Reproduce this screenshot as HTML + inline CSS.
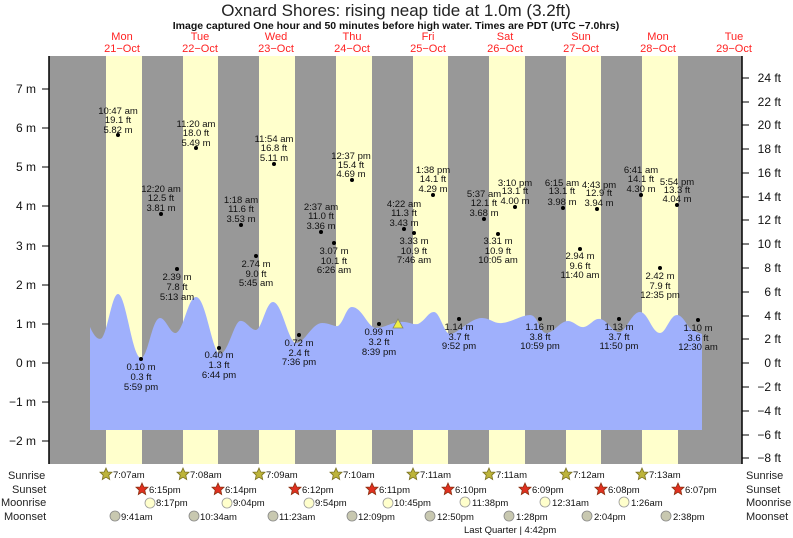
<!DOCTYPE html>
<html><head><meta charset="utf-8"><style>
body{margin:0;background:#fff}
svg{display:block;font-family:"Liberation Sans",sans-serif}
</style></head><body>
<svg width="793" height="538" viewBox="0 0 793 538">
<rect width="793" height="538" fill="#fff"/>
<text x="396" y="16" font-size="17" text-anchor="middle" fill="#222">Oxnard Shores: rising  neap tide at 1.0m (3.2ft)</text>
<text x="396" y="29" font-size="10.5" font-weight="bold" text-anchor="middle" fill="#111">Image captured One hour and 50 minutes before high water. Times are PDT (UTC −7.0hrs)</text>
<g font-size="11" fill="#f22" text-anchor="middle">
<text x="122" y="40">Mon</text><text x="122" y="52">21−Oct</text>
<text x="200" y="40">Tue</text><text x="200" y="52">22−Oct</text>
<text x="276" y="40">Wed</text><text x="276" y="52">23−Oct</text>
<text x="352" y="40">Thu</text><text x="352" y="52">24−Oct</text>
<text x="428" y="40">Fri</text><text x="428" y="52">25−Oct</text>
<text x="505" y="40">Sat</text><text x="505" y="52">26−Oct</text>
<text x="581" y="40">Sun</text><text x="581" y="52">27−Oct</text>
<text x="658" y="40">Mon</text><text x="658" y="52">28−Oct</text>
<text x="734" y="40">Tue</text><text x="734" y="52">29−Oct</text>
</g>
<rect x="49" y="56" width="693" height="408" fill="#989898"/>
<g fill="#ffffcc">
<rect x="106" y="56" width="36" height="408"/><rect x="183" y="56" width="35" height="408"/>
<rect x="259" y="56" width="36" height="408"/><rect x="336" y="56" width="36" height="408"/>
<rect x="413" y="56" width="35" height="408"/><rect x="489" y="56" width="36" height="408"/>
<rect x="566" y="56" width="35" height="408"/><rect x="642" y="56" width="36" height="408"/>
</g>
<path fill="#9fb0fc" d="M90,327 C94,336 98,341 102,338 C108,330 112,294 118,294 C126,294 132,358 141,358 C148,358 152,318 160,318 C166,318 170,334 176,333 C184,330 188,297 196,297 C206,297 212,353 220,354 C228,354 234,322 240,321 C246,320 250,330 256,330 C262,329 266,302 273,302 C282,302 288,342 296,343 C304,344 312,323 322,323 C330,323 334,327 338,326 C344,322 346,307 352,307 C362,307 368,328 376,328 C384,328 390,323 400,322 C408,321 412,325 418,324 C426,320 428,312 434,312 C440,312 444,334 450,334 C458,334 470,318 482,318 C490,318 494,324 502,323 C512,322 522,315 530,315 C538,315 540,333 546,333 C554,333 560,321 568,321 C574,321 578,328 584,327 C590,326 594,318 600,319 C608,320 612,333 620,332 C626,331 632,312 640,312 C648,312 652,333 660,333 C666,333 670,315 677,315 C684,315 688,330 694,331 L702,334 L702,430 L90,430 Z"/>
<g stroke="#000" stroke-width="1.5"><line x1="49" y1="56" x2="49" y2="464"/><line x1="742" y1="56" x2="742" y2="464"/></g>
<g stroke="#000" stroke-width="1">
<line x1="42" y1="89" x2="49" y2="89"/><line x1="42" y1="128" x2="49" y2="128"/><line x1="42" y1="167" x2="49" y2="167"/><line x1="42" y1="206" x2="49" y2="206"/><line x1="42" y1="246" x2="49" y2="246"/><line x1="42" y1="285" x2="49" y2="285"/><line x1="42" y1="324" x2="49" y2="324"/><line x1="42" y1="363" x2="49" y2="363"/><line x1="42" y1="402" x2="49" y2="402"/><line x1="42" y1="441" x2="49" y2="441"/>
<line x1="742" y1="78" x2="749" y2="78"/><line x1="742" y1="102" x2="749" y2="102"/><line x1="742" y1="125" x2="749" y2="125"/><line x1="742" y1="149" x2="749" y2="149"/><line x1="742" y1="173" x2="749" y2="173"/><line x1="742" y1="197" x2="749" y2="197"/><line x1="742" y1="220" x2="749" y2="220"/><line x1="742" y1="244" x2="749" y2="244"/><line x1="742" y1="268" x2="749" y2="268"/><line x1="742" y1="292" x2="749" y2="292"/><line x1="742" y1="316" x2="749" y2="316"/><line x1="742" y1="339" x2="749" y2="339"/><line x1="742" y1="363" x2="749" y2="363"/><line x1="742" y1="387" x2="749" y2="387"/><line x1="742" y1="411" x2="749" y2="411"/><line x1="742" y1="435" x2="749" y2="435"/><line x1="742" y1="458" x2="749" y2="458"/>
</g>
<g font-size="12" fill="#111" text-anchor="end">
<text x="36" y="93">7 m</text><text x="36" y="132">6 m</text><text x="36" y="171">5 m</text><text x="36" y="210">4 m</text><text x="36" y="250">3 m</text><text x="36" y="289">2 m</text><text x="36" y="328">1 m</text><text x="36" y="367">0 m</text><text x="36" y="406">−1 m</text><text x="36" y="445">−2 m</text>
</g>
<g font-size="12" fill="#111" text-anchor="end">
<text x="781" y="82">24 ft</text><text x="781" y="106">22 ft</text><text x="781" y="129">20 ft</text><text x="781" y="153">18 ft</text><text x="781" y="177">16 ft</text><text x="781" y="201">14 ft</text><text x="781" y="224">12 ft</text><text x="781" y="248">10 ft</text><text x="781" y="272">8 ft</text><text x="781" y="296">6 ft</text><text x="781" y="320">4 ft</text><text x="781" y="343">2 ft</text><text x="781" y="367">0 ft</text><text x="781" y="391">−2 ft</text><text x="781" y="415">−4 ft</text><text x="781" y="439">−6 ft</text><text x="781" y="462">−8 ft</text>
</g>
<g fill="#000">
<circle cx="118" cy="135" r="2"/><circle cx="196" cy="148" r="2"/><circle cx="274" cy="164" r="2"/><circle cx="352" cy="180" r="2"/><circle cx="433" cy="195" r="2"/><circle cx="515" cy="207" r="2"/><circle cx="597" cy="209" r="2"/><circle cx="677" cy="205" r="2"/>
<circle cx="161" cy="214" r="2"/><circle cx="241" cy="225" r="2"/><circle cx="321" cy="232" r="2"/><circle cx="404" cy="229" r="2"/><circle cx="484" cy="219" r="2"/><circle cx="563" cy="208" r="2"/><circle cx="641" cy="195" r="2"/>
<circle cx="177" cy="269" r="2"/><circle cx="256" cy="256" r="2"/><circle cx="334" cy="243" r="2"/><circle cx="414" cy="233" r="2"/><circle cx="498" cy="234" r="2"/><circle cx="580" cy="249" r="2"/><circle cx="660" cy="268" r="2"/>
<circle cx="141" cy="359" r="2"/><circle cx="219" cy="348" r="2"/><circle cx="299" cy="335" r="2"/><circle cx="379" cy="324" r="2"/><circle cx="459" cy="319" r="2"/><circle cx="540" cy="319" r="2"/><circle cx="619" cy="319" r="2"/><circle cx="698" cy="320" r="2"/>
</g>
<polygon points="393,328 398,319 403,328" fill="#ee4" stroke="#886" stroke-width="0.8"/>
<g font-size="9.5" fill="#111" text-anchor="middle">
<text x="118" y="114">10:47 am</text><text x="118" y="123">19.1 ft</text><text x="118" y="133">5.82 m</text>
<text x="196" y="127">11:20 am</text><text x="196" y="136">18.0 ft</text><text x="196" y="146">5.49 m</text>
<text x="274" y="142">11:54 am</text><text x="274" y="151">16.8 ft</text><text x="274" y="161">5.11 m</text>
<text x="351" y="159">12:37 pm</text><text x="351" y="168">15.4 ft</text><text x="351" y="177">4.69 m</text>
<text x="433" y="173">1:38 pm</text><text x="433" y="182">14.1 ft</text><text x="433" y="192">4.29 m</text>
<text x="515" y="186">3:10 pm</text><text x="515" y="194">13.1 ft</text><text x="515" y="204">4.00 m</text>
<text x="599" y="188">4:43 pm</text><text x="599" y="196">12.9 ft</text><text x="599" y="206">3.94 m</text>
<text x="677" y="185">5:54 pm</text><text x="677" y="193">13.3 ft</text><text x="677" y="202">4.04 m</text>
<text x="161" y="192">12:20 am</text><text x="161" y="201">12.5 ft</text><text x="161" y="211">3.81 m</text>
<text x="241" y="203">1:18 am</text><text x="241" y="212">11.6 ft</text><text x="241" y="222">3.53 m</text>
<text x="321" y="210">2:37 am</text><text x="321" y="219">11.0 ft</text><text x="321" y="229">3.36 m</text>
<text x="404" y="207">4:22 am</text><text x="404" y="216">11.3 ft</text><text x="404" y="226">3.43 m</text>
<text x="484" y="197">5:37 am</text><text x="484" y="206">12.1 ft</text><text x="484" y="216">3.68 m</text>
<text x="562" y="186">6:15 am</text><text x="562" y="194">13.1 ft</text><text x="562" y="205">3.98 m</text>
<text x="641" y="173">6:41 am</text><text x="641" y="182">14.1 ft</text><text x="641" y="192">4.30 m</text>
<text x="177" y="280">2.39 m</text><text x="177" y="290">7.8 ft</text><text x="177" y="300">5:13 am</text>
<text x="256" y="267">2.74 m</text><text x="256" y="277">9.0 ft</text><text x="256" y="286">5:45 am</text>
<text x="334" y="254">3.07 m</text><text x="334" y="264">10.1 ft</text><text x="334" y="273">6:26 am</text>
<text x="414" y="244">3.33 m</text><text x="414" y="254">10.9 ft</text><text x="414" y="263">7:46 am</text>
<text x="498" y="244">3.31 m</text><text x="498" y="254">10.9 ft</text><text x="498" y="263">10:05 am</text>
<text x="580" y="259">2.94 m</text><text x="580" y="269">9.6 ft</text><text x="580" y="278">11:40 am</text>
<text x="660" y="279">2.42 m</text><text x="660" y="289">7.9 ft</text><text x="660" y="298">12:35 pm</text>
<text x="141" y="370">0.10 m</text><text x="141" y="380">0.3 ft</text><text x="141" y="390">5:59 pm</text>
<text x="219" y="358">0.40 m</text><text x="219" y="368">1.3 ft</text><text x="219" y="378">6:44 pm</text>
<text x="299" y="346">0.72 m</text><text x="299" y="356">2.4 ft</text><text x="299" y="365">7:36 pm</text>
<text x="379" y="335">0.99 m</text><text x="379" y="345">3.2 ft</text><text x="379" y="355">8:39 pm</text>
<text x="459" y="330">1.14 m</text><text x="459" y="340">3.7 ft</text><text x="459" y="349">9:52 pm</text>
<text x="540" y="330">1.16 m</text><text x="540" y="340">3.8 ft</text><text x="540" y="349">10:59 pm</text>
<text x="619" y="330">1.13 m</text><text x="619" y="340">3.7 ft</text><text x="619" y="349">11:50 pm</text>
<text x="698" y="331">1.10 m</text><text x="698" y="341">3.6 ft</text><text x="698" y="350">12:30 am</text>
</g>
<g font-size="11" fill="#222">
<text x="8" y="479">Sunrise</text><text x="12" y="493">Sunset</text><text x="1" y="506">Moonrise</text><text x="4" y="520">Moonset</text>
<text x="746" y="479">Sunrise</text><text x="746" y="493">Sunset</text><text x="746" y="506">Moonrise</text><text x="746" y="520">Moonset</text>
</g>
<defs>
<polygon id="st" points="0,-6 1.8,-2 6,-1.8 2.8,1.2 3.7,5.5 0,3.2 -3.7,5.5 -2.8,1.2 -6,-1.8 -1.8,-2"/>
</defs>
<g fill="#bdb43a" stroke="#7a7020" stroke-width="0.8">
<use href="#st" x="106" y="474"/><use href="#st" x="183" y="474"/><use href="#st" x="259" y="474"/><use href="#st" x="336" y="474"/><use href="#st" x="413" y="474"/><use href="#st" x="489" y="474"/><use href="#st" x="566" y="474"/><use href="#st" x="642" y="474"/>
</g>
<g fill="#e03020" stroke="#8a3010" stroke-width="0.8">
<use href="#st" x="142" y="489"/><use href="#st" x="218" y="489"/><use href="#st" x="295" y="489"/><use href="#st" x="372" y="489"/><use href="#st" x="448" y="489"/><use href="#st" x="525" y="489"/><use href="#st" x="601" y="489"/><use href="#st" x="678" y="489"/>
</g>
<g fill="#ffffcc" stroke="#999" stroke-width="0.8">
<circle cx="150" cy="503" r="5"/><circle cx="227" cy="503" r="5"/><circle cx="309" cy="503" r="5"/><circle cx="388" cy="503" r="5"/><circle cx="465" cy="502" r="5"/><circle cx="545" cy="502" r="5"/><circle cx="624" cy="502" r="5"/>
</g>
<g fill="#c8c8b0" stroke="#888" stroke-width="0.8">
<circle cx="115" cy="516" r="5"/><circle cx="194" cy="516" r="5"/><circle cx="273" cy="516" r="5"/><circle cx="352" cy="516" r="5"/><circle cx="430" cy="516" r="5"/><circle cx="509" cy="516" r="5"/><circle cx="587" cy="516" r="5"/><circle cx="666" cy="516" r="5"/>
</g>
<g font-size="9.5" fill="#111">
<text x="113" y="478">7:07am</text><text x="190" y="478">7:08am</text><text x="266" y="478">7:09am</text><text x="343" y="478">7:10am</text><text x="420" y="478">7:11am</text><text x="496" y="478">7:11am</text><text x="573" y="478">7:12am</text><text x="649" y="478">7:13am</text>
<text x="149" y="493">6:15pm</text><text x="225" y="493">6:14pm</text><text x="302" y="493">6:12pm</text><text x="379" y="493">6:11pm</text><text x="455" y="493">6:10pm</text><text x="532" y="493">6:09pm</text><text x="608" y="493">6:08pm</text><text x="685" y="493">6:07pm</text>
<text x="156" y="506">8:17pm</text><text x="233" y="506">9:04pm</text><text x="315" y="506">9:54pm</text><text x="394" y="506">10:45pm</text><text x="472" y="506">11:38pm</text><text x="552" y="506">12:31am</text><text x="631" y="506">1:26am</text>
<text x="121" y="520">9:41am</text><text x="200" y="520">10:34am</text><text x="279" y="520">11:23am</text><text x="358" y="520">12:09pm</text><text x="437" y="520">12:50pm</text><text x="516" y="520">1:28pm</text><text x="594" y="520">2:04pm</text><text x="673" y="520">2:38pm</text>
<text x="464" y="533">Last Quarter | 4:42pm</text>
</g>
</svg>
</body></html>
